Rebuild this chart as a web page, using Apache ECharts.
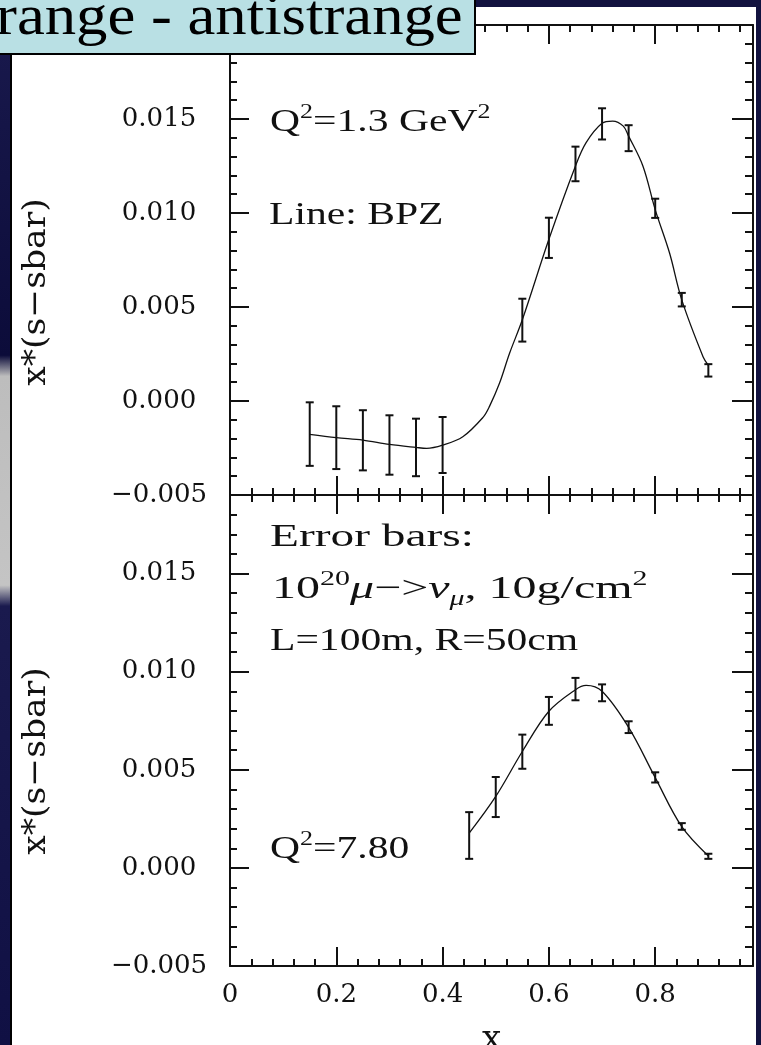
<!DOCTYPE html>
<html><head><meta charset="utf-8">
<script src="https://cdn.jsdelivr.net/npm/echarts@6/dist/echarts.min.js"></script>
<style>html,body{margin:0;padding:0;background:#fff;}#c{width:761px;height:1045px;}</style>
</head><body><div id="c"></div>
<script>
// ---------- data ----------
const xMajorTicks = [0, 0.2, 0.4, 0.6, 0.8];
const xTickLabels = ['0', '0.2', '0.4', '0.6', '0.8'];
const xMinorTicks = [0.04,0.08,0.12,0.16,0.24,0.28,0.32,0.36,0.44,0.48,0.52,0.56,0.64,0.68,0.72,0.76,0.84,0.88,0.92,0.96];
const yMajorTicks = [-0.005, 0.000, 0.005, 0.010, 0.015, 0.020];
const yTickLabels = ['\u22120.005', '0.000', '0.005', '0.010', '0.015', '0.020'];
const yMinorTicks = [-0.004,-0.003,-0.002,-0.001,0.001,0.002,0.003,0.004,0.006,0.007,0.008,0.009,0.011,0.012,0.013,0.014,0.016,0.017,0.018,0.019];

// upper panel  (Q^2 = 1.3 GeV^2)
const upperX   = [0.15, 0.20, 0.25, 0.30, 0.35, 0.40, 0.55, 0.60, 0.65, 0.70, 0.75, 0.80, 0.85, 0.90];
const upperY   = [-0.00176, -0.00195, -0.00209, -0.00234, -0.00247, -0.00234, 0.00430, 0.00868, 0.01261, 0.01474, 0.01398, 0.01025, 0.00539, 0.00163];
const upperErr = [0.00169, 0.00167, 0.00160, 0.00158, 0.00153, 0.00149, 0.00114, 0.00107, 0.00092, 0.00083, 0.00069, 0.00051, 0.00036, 0.00033];
const upperCurveX = [0.15, 0.20, 0.25, 0.30, 0.35, 0.37, 0.40, 0.438, 0.476, 0.488, 0.507, 0.526, 0.55, 0.60, 0.65, 0.67, 0.70, 0.72, 0.74, 0.75, 0.777, 0.80, 0.827, 0.85, 0.89, 0.90];
const upperCurveY = [-0.00178, -0.00195, -0.00208, -0.00231, -0.00247, -0.00252, -0.00235, -0.00190, -0.00087, -0.00030, 0.00094, 0.00254, 0.00432, 0.00860, 0.01250, 0.01374, 0.01477, 0.01489, 0.01462, 0.01409, 0.01249, 0.01018, 0.00787, 0.00538, 0.00236, 0.00190];

// lower panel  (Q^2 = 7.80)
const lowerX   = [0.45, 0.50, 0.55, 0.60, 0.65, 0.70, 0.75, 0.80, 0.85, 0.90];
const lowerY   = [0.00165, 0.00361, 0.00592, 0.00800, 0.00911, 0.00892, 0.00717, 0.00461, 0.00211, 0.00059];
const lowerErr = [0.00119, 0.00102, 0.00087, 0.00071, 0.00057, 0.00043, 0.00030, 0.00026, 0.00017, 0.00013];
const lowerCurveX = [0.45, 0.50, 0.55, 0.60, 0.65, 0.67, 0.70, 0.75, 0.80, 0.85, 0.90];
const lowerCurveY = [0.00177, 0.00364, 0.00593, 0.00798, 0.00908, 0.00930, 0.00900, 0.00716, 0.00460, 0.00210, 0.00061];

const xRange = [0, 0.984];
const upperYRange = [-0.005, 0.020];
const lowerYRange = [-0.005, 0.019];

// ---------- styling ----------
const INK = '#111';
const TICKFONT = '"DejaVu Serif", serif';
const SERIF = '"Liberation Serif", "DejaVu Serif", serif';

function inRange(vals, r) { return vals.filter(v => v >= r[0] - 1e-9 && v <= r[1] + 1e-9); }

function axisBase(gridIndex, position, range, tickVals, len, showLine) {
  return {
    type: 'value', gridIndex, position, min: range[0], max: range[1],
    axisLine: { show: showLine, onZero: false, lineStyle: { color: INK, width: 2 } },
    axisTick: { show: true, inside: true, length: len, customValues: inRange(tickVals, range), lineStyle: { color: INK, width: 2 } },
    axisLabel: { show: false },
    splitLine: { show: false }
  };
}

const xAxes = [];
const yAxes = [];
[0, 1].forEach(g => {
  const yr = g === 0 ? upperYRange : lowerYRange;
  const xb = axisBase(g, 'bottom', xRange, xMajorTicks, 19, true);
  if (g === 1) {
    xb.axisLabel = {
      show: true, customValues: xMajorTicks, margin: 16,
      formatter: v => { const i = xMajorTicks.findIndex(t => Math.abs(t - v) < 1e-9); return i >= 0 ? xTickLabels[i] : ''; },
      color: INK, fontFamily: TICKFONT, fontSize: 26
    };
    xb.name = 'x'; xb.nameLocation = 'middle'; xb.nameGap = 57;
    xb.nameTextStyle = { color: INK, fontFamily: TICKFONT, fontSize: 34 };
  }
  xAxes.push(xb);
  xAxes.push(axisBase(g, 'bottom', xRange, xMinorTicks, 7, false));
  xAxes.push(axisBase(g, 'top', xRange, xMajorTicks, 19, true));
  xAxes.push(axisBase(g, 'top', xRange, xMinorTicks, 7, false));
  const yl = axisBase(g, 'left', yr, yMajorTicks, 19, true);
  const labelVals = yMajorTicks.filter(v => v >= yr[0] - 1e-9 && v < yr[1] - 1e-9);
  yl.axisLabel = {
    show: true, customValues: labelVals, margin: 71, align: 'center',
    formatter: v => { const i = yMajorTicks.findIndex(t => Math.abs(t - v) < 1e-9); return i >= 0 ? yTickLabels[i] : ''; },
    color: INK, fontFamily: TICKFONT, fontSize: 26
  };
  yAxes.push(yl);
  yAxes.push(axisBase(g, 'left', yr, yMinorTicks, 7, false));
  yAxes.push(axisBase(g, 'right', yr, yMajorTicks, 21, true));
  yAxes.push(axisBase(g, 'right', yr, yMinorTicks, 8, false));
});

function errorBarItem(params, api) {
  const x = api.value(0), lo = api.value(1), hi = api.value(2);
  const a = api.coord([x, hi]), b = api.coord([x, lo]);
  const hw = 4;
  const st = { stroke: INK, lineWidth: 2 };
  return { type: 'group', children: [
    { type: 'line', shape: { x1: a[0], y1: a[1], x2: b[0], y2: b[1] }, style: st },
    { type: 'line', shape: { x1: a[0] - hw, y1: a[1], x2: a[0] + hw, y2: a[1] }, style: st },
    { type: 'line', shape: { x1: b[0] - hw, y1: b[1], x2: b[0] + hw, y2: b[1] }, style: st }
  ]};
}

function errData(xs, ys, es) { return xs.map((x, i) => [x, ys[i] - es[i], ys[i] + es[i]]); }
function curveData(xs, ys) { return xs.map((x, i) => [x, ys[i]]); }

const richStyles = {
  n:   { fontSize: 32, fontFamily: SERIF, lineHeight: 40, fill: INK },
  it:  { fontSize: 32, fontFamily: SERIF, fontStyle: 'italic', lineHeight: 40, fill: INK },
  sup: { fontSize: 20, fontFamily: SERIF, lineHeight: 8, verticalAlign: 'top', fill: INK },
  sub: { fontSize: 20, fontFamily: SERIF, fontStyle: 'italic', lineHeight: 24, verticalAlign: 'bottom', fill: INK }
};
function ann(x, y, text, sx) {
  return { type: 'text', x, y, scaleX: sx || 1.3, z: 60,
    style: { text, rich: richStyles, fontSize: 32, fontFamily: SERIF, lineHeight: 40, fill: INK, align: 'left', verticalAlign: 'middle' } };
}

const navy = '#12123f';
const graphics = [
  { type: 'rect', z: 50, shape: { x: 0, y: 0, width: 11, height: 1045 },
    style: { fill: new echarts.graphic.LinearGradient(0, 0, 0, 1, [
      { offset: 0, color: '#1a1a4e' }, { offset: 0.34, color: '#0c0c3a' }, { offset: 0.36, color: '#bdbdbd' },
      { offset: 0.56, color: '#c4c4c4' }, { offset: 0.58, color: '#1a1a4e' }, { offset: 1, color: '#101044' }]) } },
  { type: 'rect', z: 51, shape: { x: 10, y: 54, width: 2, height: 991 }, style: { fill: '#000' } },
  { type: 'rect', z: 50, shape: { x: 475, y: 0, width: 286, height: 7 }, style: { fill: navy } },
  { type: 'rect', z: 50, shape: { x: 756, y: 0, width: 5, height: 1045 }, style: { fill: navy } },
  { type: 'rect', z: 70, shape: { x: -3, y: -3, width: 478, height: 57 }, style: { fill: '#b9e0e4', stroke: '#000', lineWidth: 2 } },
  { type: 'text', z: 71, x: -4, y: 19, scaleX: 1.12,
    style: { text: 'range - antistrange', fontFamily: SERIF, fontSize: 56, fill: '#000', align: 'left', verticalAlign: 'middle' } },
  { type: 'text', z: 60, x: 37, y: 292, rotation: Math.PI / 2, scaleX: 1.08,
    style: { text: 'x*(s\u2212sbar)', fontFamily: TICKFONT, fontSize: 32, fill: INK, align: 'center', verticalAlign: 'middle' } },
  { type: 'text', z: 60, x: 37, y: 761, rotation: Math.PI / 2, scaleX: 1.08,
    style: { text: 'x*(s\u2212sbar)', fontFamily: TICKFONT, fontSize: 32, fill: INK, align: 'center', verticalAlign: 'middle' } },
  ann(270, 123, '{n|Q}{sup|2}{n|=1.3 GeV}{sup|2}'),
  ann(269, 216, '{n|Line: BPZ}'),
  ann(270, 538, '{n|Error bars:}', 1.48),
  ann(272, 590, '{n|10}{sup|20}{it|\u03bc}{n|\u2212>}{it|\u03bd}{sub|\u03bc}{n|, 10g/cm}{sup|2}', 1.5),
  ann(270, 642, '{n|L=100m, R=50cm}'),
  ann(270, 850, '{n|Q}{sup|2}{n|=7.80}')
];

const chart = echarts.init(document.getElementById('c'), null, { renderer: 'canvas' });
chart.setOption({
  animation: false,
  backgroundColor: '#ffffff',
  grid: [
    { left: 230, top: 25, width: 523, height: 470, outerBoundsMode: 'none', containLabel: false },
    { left: 230, top: 495, width: 523, height: 471, outerBoundsMode: 'none', containLabel: false }
  ],
  xAxis: xAxes,
  yAxis: yAxes,
  series: [
    { type: 'line', xAxisIndex: 0, yAxisIndex: 0, data: curveData(upperCurveX, upperCurveY), smooth: 0.35,
      showSymbol: false, lineStyle: { color: INK, width: 1.3 }, z: 3 },
    { type: 'custom', xAxisIndex: 0, yAxisIndex: 0, data: errData(upperX, upperY, upperErr), renderItem: errorBarItem,
      encode: { x: 0, y: [1, 2] }, z: 4 },
    { type: 'line', xAxisIndex: 4, yAxisIndex: 4, data: curveData(lowerCurveX, lowerCurveY), smooth: 0.35,
      showSymbol: false, lineStyle: { color: INK, width: 1.3 }, z: 3 },
    { type: 'custom', xAxisIndex: 4, yAxisIndex: 4, data: errData(lowerX, lowerY, lowerErr), renderItem: errorBarItem,
      encode: { x: 0, y: [1, 2] }, z: 4 }
  ],
  graphic: graphics
});
</script></body></html>
